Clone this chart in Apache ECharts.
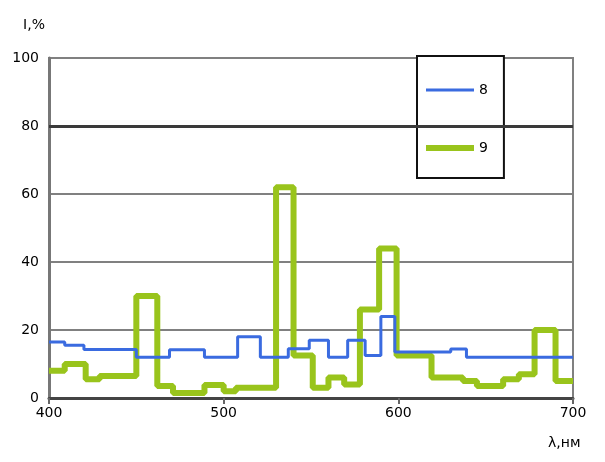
<!DOCTYPE html>
<html><head><meta charset="utf-8">
<script src="https://cdn.jsdelivr.net/npm/echarts@6/dist/echarts.min.js"></script>
<style>html,body{margin:0;padding:0;background:#fff}#c{width:605px;height:462px}</style>
</head><body><div id="c"></div>
<script>
// step series: segment start wavelengths and the level held until the next edge
const edges8  = [400,409,420,450,469,489,508,521,537,549,560,571,581,590,598,630,639,700];
const values8 = [16.5,15.5,14.3,12,14.2,12,18,12,14.5,17,12,17,12.5,24,13.5,14.4,12,12];
const edges9  = [400,409,421,429,450,462,471,489,500,507,530,540,551,560,569,578,589,599,619,637,645,660,669,678,690,700];
const values9 = [8,10,5.5,6.5,30,3.5,1.5,3.8,2,3,62,12.5,3,6,4,26,44,12.5,6,5,3.5,5.5,7,20,5,5];
const xTicks = [400,500,600,700];
const yTicks = [0,20,40,60,80,100];
const seriesNames = ['8','9'];

const pts = (e,v)=>e.map((x,i)=>[x,v[i]]);
const font = 'DejaVu Sans';
const chart = echarts.init(document.getElementById('c'));
chart.setOption({
  animation:false,
  textStyle:{fontFamily:font},
  grid:{left:49,right:32,top:58,bottom:64,show:true,borderColor:'#808080',borderWidth:2},
  xAxis:{type:'value',min:400,max:700,interval:100,
    axisLine:{lineStyle:{color:'#444',width:3}},
    axisTick:{show:true,length:6,lineStyle:{color:'#666',width:2}},
    axisLabel:{color:'#000',fontSize:14,margin:8,formatter:v=>xTicks.includes(v)?String(v):''},
    splitLine:{show:false}},
  yAxis:{type:'value',min:0,max:100,interval:20,
    name:'I,%',nameLocation:'end',nameGap:26,
    nameTextStyle:{color:'#000',fontSize:14,align:'right',padding:[0,4,0,0]},
    axisLine:{show:true,lineStyle:{color:'#777',width:3}},
    axisTick:{show:false},
    axisLabel:{color:'#000',fontSize:14,margin:10,formatter:v=>yTicks.includes(v)?String(v):''},
    splitLine:{show:true,lineStyle:{color:'#808080',width:2}}},
  legend:{left:417,top:56,orient:'vertical',
    data:[{name:seriesNames[0],icon:'path://M0,0L48,0L48,3L0,3Z'},
          {name:seriesNames[1],icon:'path://M0,0L48,0L48,6L0,6Z'}],
    symbolKeepAspect:true,
    borderColor:'#111',borderWidth:2,backgroundColor:'#fff',
    padding:[27,16,23,9],itemWidth:48,itemHeight:14,itemGap:44,
    textStyle:{color:'#000',fontSize:14,fontFamily:font}},
  graphic:[{type:'text',left:548,top:436,style:{text:'λ,нм',fill:'#000',font:'14px "DejaVu Sans"'}}],
  series:[
    {name:'8',type:'line',step:'end',symbol:'none',data:pts(edges8,values8),
     lineStyle:{color:'#3a6be0',width:3},itemStyle:{color:'#3a6be0'},z:3,
     markLine:{silent:true,symbol:'none',label:{show:false},
       lineStyle:{color:'#3a3a3a',width:3,type:'solid'},data:[{yAxis:80}]}},
    {name:'9',type:'line',step:'end',symbol:'none',data:pts(edges9,values9),
     lineStyle:{color:'#99c41c',width:6},itemStyle:{color:'#99c41c'},z:2}
  ]
});
</script></body></html>
